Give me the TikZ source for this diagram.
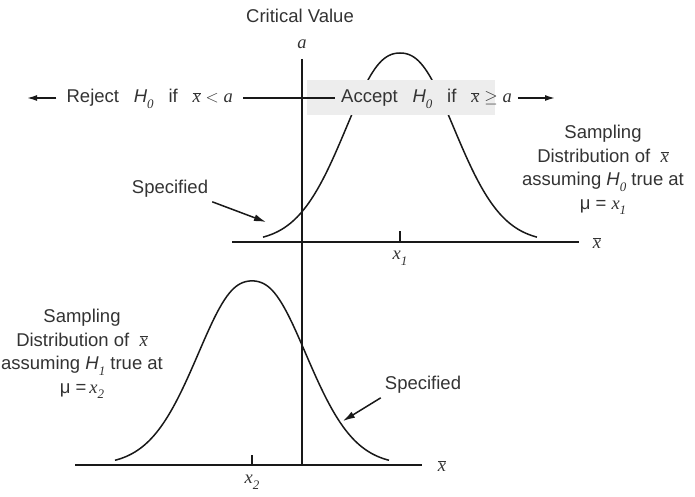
\documentclass[tikz,border=0pt]{standalone}
\usepackage{fontspec}
\setmainfont{Liberation Sans}
\newfontfamily\tmsfont{Liberation Serif}
\usetikzlibrary{arrows.meta}

\newcommand\vi[1]{{\tmsfont\itshape #1}}
\newcommand\sbs[1]{\raisebox{-0.3em}{\fontsize{13}{13}\selectfont\tmsfont\itshape #1}}
\newcommand\hyp[1]{{\itshape H}\sbs{#1}}
\newcommand\xbar{$\overline{\hbox{\vi{x}}}$}
\newcommand\gap{\hspace{0.55em}}
\newcommand\wgap{\hspace{0.8em}}

\tikzset{
  bell/.pic={
    \draw[curve] plot[domain=-2.74:2.74, samples=121, smooth]
      ({50*\x},{-189*exp(-0.5*\x*\x*(\x*\x+0.2)/(\x*\x+0.4))});
  }
}

\begin{document}
\begin{tikzpicture}[x=1pt, y=-1pt,
    label/.style={font=\fontsize{18.5}{23.5}\selectfont, text=black!80, inner sep=0pt},
    note/.style={label, align=center},
    rule/.style={label, text height=14pt, text depth=4pt},
    axis/.style={line width=1.8pt, black!90},
    curve/.style={line width=1.5pt, black!90},
    ray/.style={-{Latex[length=10pt,width=6pt]}, line width=1.5pt, black!90},
    pointer/.style={-{Latex[length=12pt,width=7pt]}, line width=1.5pt, black!90},
  ]
  \useasboundingbox (0,0) rectangle (695,497);

  % sampling curves
  \pic at (400,242) {bell};
  \pic[yscale=0.974] at (252,465) {bell};

  % acceptance region
  \fill[black!7] (307,80) rectangle (495,115);

  % axes and ticks
  \draw[axis] (232,242) -- (579,242);
  \draw[axis] (75,465) -- (422,465);
  \draw[curve] (400,231) -- (400,242);
  \draw[curve] (252,455) -- (252,465);
  \node[label] (xb1) at (597,243) {\xbar};
  \node[label] (xb2) at (442,466) {\xbar};
  \node[label] (x1) at (400,258) {\vi{x}\sbs{1}};
  \node[label] (x2) at (252,482) {\vi{x}\sbs{2}};

  % critical value
  \coordinate (crit) at (302,59);
  \coordinate (critfoot) at (302,465);
  \draw[axis] (crit) -- (critfoot);
  \node[label] (aval) at (302,44) {\vi{a}};
  \node[label] (cv) at (300,16) {Critical Value};

  % decision rule
  \node[rule, anchor=west, inner xsep=6pt] (accept) at (335,98)
    {Accept\wgap\hyp{0}\wgap if\wgap\xbar${}\geq{}$\vi{a}};
  \node[rule, anchor=east, inner xsep=10pt] (reject) at (243,98)
    {Reject\wgap\hyp{0}\wgap if\wgap\xbar${}<{}$\vi{a}};
  \coordinate (rejtip) at (27,98);
  \coordinate (acctip) at (555,98);
  \draw[axis, line width=1.5pt] (reject.east) -- (accept.west);
  \draw[ray] (reject.west) -- (rejtip);
  \draw[ray] (accept.east) -- (acctip);

  % distribution notes
  \node[note] (samp0) at (603,170)
    {Sampling\\Distribution of\gap\xbar\\assuming \hyp{0} true at\\μ = \vi{x}\sbs{1}};
  \node[note] (samp1) at (82,354)
    {Sampling\\Distribution of\gap\xbar\\assuming \hyp{1} true at\\μ =\,\vi{x}\sbs{2}};

  % specified tails
  \node[label, inner sep=4pt] (spec0) at (170,189) {Specified};
  \node[label, inner sep=4pt] (spec1) at (423,385) {Specified};
  \coordinate (spec0tip) at (266,222);
  \coordinate (spec1tip) at (343,421);
  \draw[pointer] (spec0.south east) -- (spec0tip);
  \draw[pointer] (spec1.south west) -- (spec1tip);
\end{tikzpicture}
\end{document}
